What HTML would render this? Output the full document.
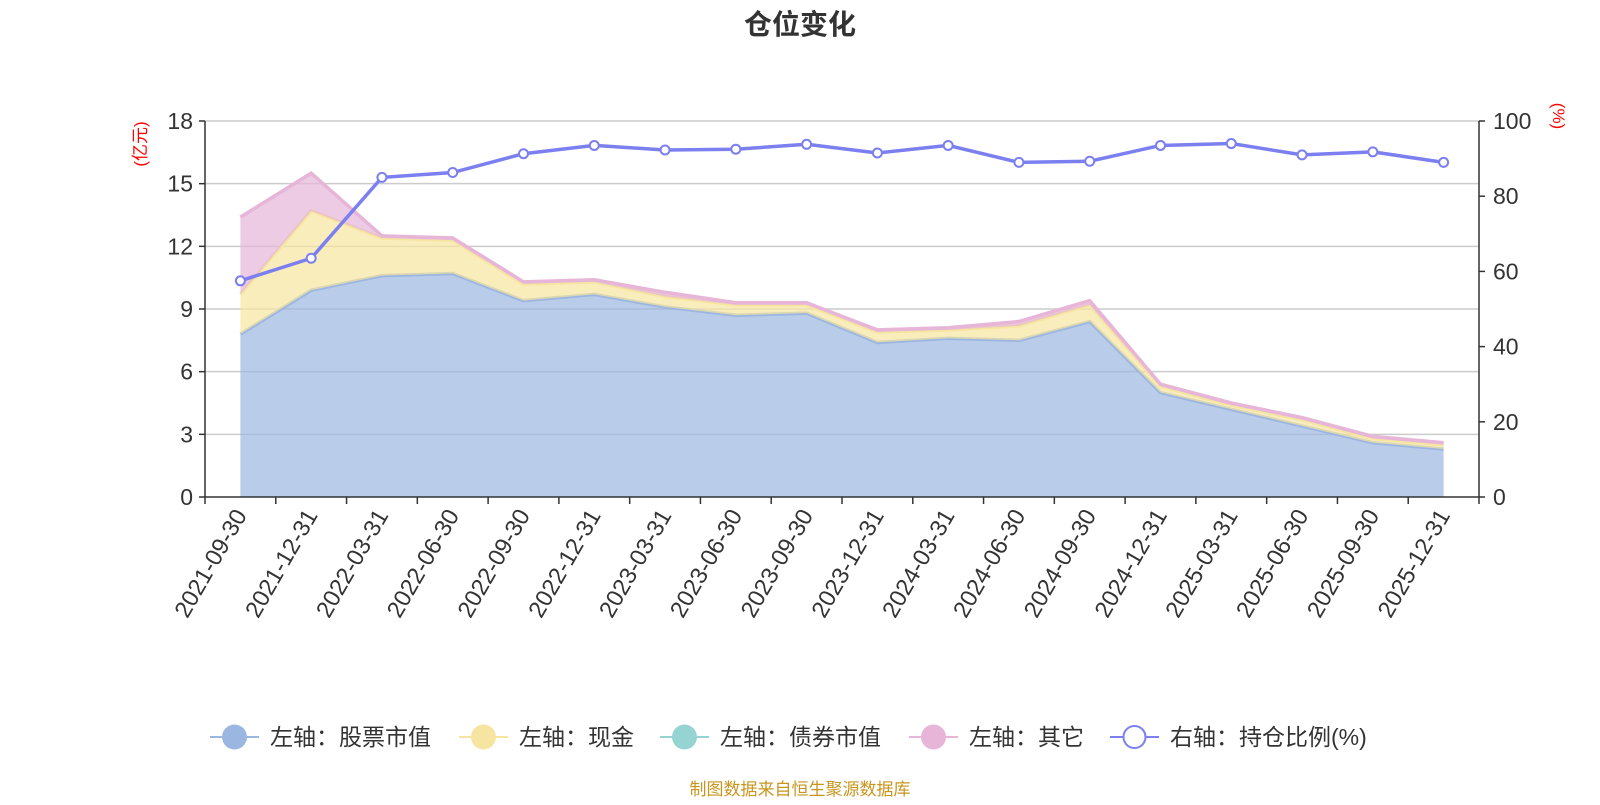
<!DOCTYPE html>
<html><head><meta charset="utf-8"><style>
body{margin:0;background:#fff;width:1600px;height:800px;overflow:hidden;font-family:"Liberation Sans","Noto Sans CJK SC",sans-serif}
</style></head><body>
<svg id="chart" width="1600" height="800" xmlns="http://www.w3.org/2000/svg" font-family="'Liberation Sans','Noto Sans CJK SC',sans-serif">
<text x="800" y="34" text-anchor="middle" font-size="28" font-weight="bold" fill="#333">仓位变化</text>
<g id="grid"></g><g id="areas"></g><g id="axes"></g><g id="line"></g>
<text transform="translate(146,144) rotate(-90)" text-anchor="middle" font-size="17" fill="#f00">(亿元)</text>
<text transform="translate(1553,116) rotate(90)" text-anchor="middle" font-size="17" fill="#f00">(%)</text>
<g id="legend"></g>
<text x="800" y="795" text-anchor="middle" font-size="17" fill="#c8961e">制图数据来自恒生聚源数据库</text>
</svg>
<script>
const categories=["2021-09-30","2021-12-31","2022-03-31","2022-06-30","2022-09-30","2022-12-31","2023-03-31","2023-06-30","2023-09-30","2023-12-31","2024-03-31","2024-06-30","2024-09-30","2024-12-31","2025-03-31","2025-06-30","2025-09-30","2025-12-31"];
const stockValues=[7.8,9.9,10.6,10.7,9.4,9.7,9.1,8.7,8.8,7.4,7.6,7.5,8.4,5.0,4.2,3.4,2.6,2.3];
const cashValues=[1.9,3.8,1.8,1.6,0.8,0.6,0.5,0.5,0.4,0.5,0.4,0.7,0.8,0.3,0.2,0.3,0.2,0.2];
const bondValues=[0,0,0,0,0,0,0,0,0,0,0,0,0,0,0,0,0,0];
const otherValues=[3.7,1.8,0.1,0.1,0.1,0.1,0.2,0.1,0.1,0.1,0.1,0.2,0.2,0.1,0.1,0.1,0.1,0.1];
const ratioValues=[57.5,63.5,85,86.3,91.3,93.5,92.3,92.5,93.8,91.5,93.5,89,89.3,93.5,94,91,91.8,89];
const leftTicks=[0,3,6,9,12,15,18];
const rightTicks=[0,20,40,60,80,100];
const NS="http://www.w3.org/2000/svg";
const X0=205,X1=1479,Y0=497,Y1=121;
const band=(X1-X0)/categories.length;
const xs=i=>X0+band*(i+0.5);
const yL=v=>Y0-(v/18)*(Y0-Y1);
const yR=v=>Y0-(v/100)*(Y0-Y1);
function mk(tag,attrs,parent){const e=document.createElementNS(NS,tag);for(const k in attrs)e.setAttribute(k,attrs[k]);(typeof parent==='string'?document.getElementById(parent):parent).appendChild(e);return e;}
leftTicks.forEach(t=>{
 if(t>0){const g=mk('line',{x1:X0,x2:X1,y1:yL(t),y2:yL(t),stroke:'#ccc','stroke-width':1.5},'grid');
 
 }
 const tk=mk('line',{x1:X0-6,x2:X0,y1:yL(t),y2:yL(t),stroke:'#333','stroke-width':1.5},'axes');
 
 
 const l=mk('text',{x:X0-12,y:yL(t)+8,'text-anchor':'end','font-size':23,fill:'#333'},'axes');l.textContent=t;
 
 
});
rightTicks.forEach(t=>{
 const tk=mk('line',{x1:X1,x2:X1+6,y1:yR(t),y2:yR(t),stroke:'#333','stroke-width':1.5},'axes');
 
 
 const l=mk('text',{x:X1+14,y:yR(t)+8,'font-size':23,fill:'#333'},'axes');l.textContent=t;
 
 
});
const series=[[stockValues,'#9bb6e0','stock'],[cashValues,'#f6e5a0','cash'],[bondValues,'#96d3d3','bond'],[otherValues,'#e6b5d8','other']];
let base=categories.map(()=>0);
series.forEach(([vals,col,nm])=>{
 const top=base.map((b,i)=>b+vals[i]);
 let d='M'+top.map((v,i)=>xs(i)+','+yL(v)).join(' L');
 for(let i=categories.length-1;i>=0;i--)d+=' L'+xs(i)+','+yL(base[i]);
 const a=mk('path',{d:d+'Z',fill:col,'fill-opacity':0.7,stroke:'none'},'areas');
 
 
 if(nm!=='bond'){
 const ln=mk('polyline',{points:top.map((v,i)=>xs(i)+','+yL(v)).join(' '),fill:'none',stroke:col,'stroke-width':3.5},'areas');
 
 }
 base=top;
});
[[X0,Y1,X0,Y0,'left-axis'],[X1,Y1,X1,Y0,'right-axis'],[X0,Y0,X1,Y0,'x-axis']].forEach(([a,b,c,d,n])=>{
 const l=mk('line',{x1:a,y1:b,x2:c,y2:d,stroke:'#333','stroke-width':1.5},'axes');
 
 
});
for(let i=0;i<=categories.length;i++){
 const t=mk('line',{x1:X0+band*i,x2:X0+band*i,y1:Y0,y2:Y0+7,stroke:'#333','stroke-width':1.5},'axes');
 
 
}
categories.forEach((c,i)=>{
 const x=xs(i),y=Y0+14;
 const t=mk('text',{x:x,y:y,'text-anchor':'end','font-size':23.5,fill:'#333',transform:`rotate(-60 ${x} ${y})`,dy:'0.35em'},'axes');
 t.textContent=c;
 
 
});
const pl=mk('polyline',{points:ratioValues.map((v,i)=>xs(i)+','+yR(v)).join(' '),fill:'none',stroke:'#7b7ff0','stroke-width':3.5},'line');


ratioValues.forEach((v,i)=>{
 const c=mk('circle',{cx:xs(i),cy:yR(v),r:4.5,fill:'#fff',stroke:'#7b7ff0','stroke-width':2},'line');
 
 
});
const legendItems=[['左轴：股票市值','#9bb6e0',210,false],['左轴：现金','#f6e5a0',459,false],['左轴：债券市值','#96d3d3',660,false],['左轴：其它','#e6b5d8',909,false],['右轴：持仓比例(%)','#7b7ff0',1110,true]];
legendItems.forEach(([txt,col,x,hollow])=>{
 const g=mk('g',{},'legend');
 
 
 const y=737;
 mk('line',{x1:x,x2:x+49,y1:y,y2:y,stroke:col,'stroke-width':2},g);
 const c=mk('circle',{cx:x+24.5,cy:y,r:hollow?11:12.5,fill:hollow?'#fff':col},g);
 if(hollow){c.setAttribute('stroke',col);c.setAttribute('stroke-width',2);}
 const t=mk('text',{x:x+60,y:y+8,'font-size':23,fill:'#333'},g);
 t.textContent=txt;
});
</script>
</body></html>
